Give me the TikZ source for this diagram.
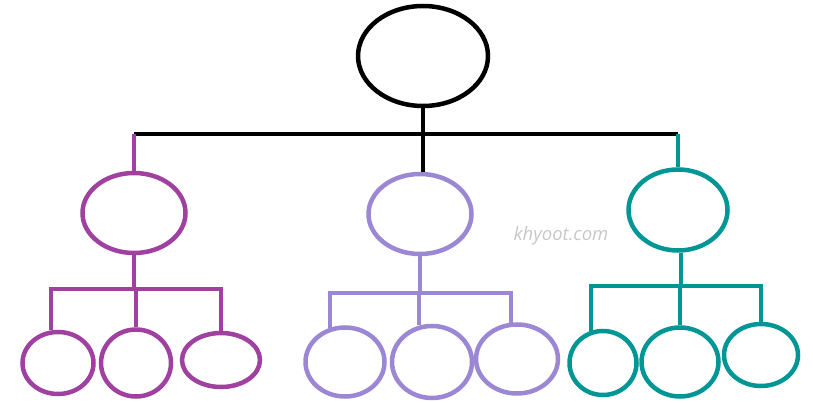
\documentclass[tikz,border=0pt]{standalone}
\usepackage{fontspec}
\newfontfamily\markfont{Open Sans}
\usetikzlibrary{shapes.geometric}
\definecolor{plum}{RGB}{160,64,160}
\definecolor{lavender}{RGB}{155,135,212}
\definecolor{teal}{RGB}{0,150,150}

\begin{document}
\begin{tikzpicture}[x=1pt,y=-1pt]
                    \tikzstyle{oval}=[ellipse,draw,line width=4.5pt,inner sep=0pt]
                    \tikzstyle{link}=[line width=4pt]
                    \useasboundingbox (0,0) rectangle (813,403);
                    \node[oval,minimum width=130,minimum height=100] (root) at (423,56) {};
                    \node[oval,plum,minimum width=103,minimum height=80] (p) at (134,213) {};
                    \node[oval,lavender,minimum width=103,minimum height=80] (l) at (420,214) {};
                    \node[oval,teal,minimum width=99,minimum height=81] (t) at (678,210) {};
                    \node[oval,plum,minimum width=71,minimum height=62] (p1) at (58,363) {};
                    \node[oval,plum,minimum width=70,minimum height=67] (p2) at (136,363) {};
                    \node[oval,plum,minimum width=78,minimum height=54] (p3) at (221,360) {};
                    \node[oval,lavender,minimum width=79,minimum height=69] (l1) at (345,362) {};
                    \node[oval,lavender,minimum width=80,minimum height=72] (l2) at (432,362) {};
                    \node[oval,lavender,minimum width=82,minimum height=69] (l3) at (517,359) {};
                    \node[oval,teal,minimum width=67,minimum height=64] (t1) at (603,363) {};
                    \node[oval,teal,minimum width=77,minimum height=69] (t2) at (680,362) {};
                    \node[oval,teal,minimum width=74,minimum height=62] (t3) at (761,355) {};
                    \coordinate (rj) at (423,134);
                    \coordinate (pj) at (134,289);
                    \coordinate (lj) at (420,293);
                    \coordinate (tj) at (681,286);
                    \draw[link] (root.south) -- (root.south |- l.north);
                    \draw[link] (p.north |- rj) -- (t.north |- rj);
                    \draw[link,plum] (p.north |- rj) -- (p.north);
                    \draw[link,teal] (t.north |- rj) -- (t.north);
                    \draw[link,plum] (p.south) -- (p.south |- pj);
                    \draw[link,plum] (p1.102) |- (pj) -| (p3.north);
                    \draw[link,plum] (p2.north) -- (p2.north |- pj);
                    \draw[link,lavender] (l.south) -- (l.south |- lj);
                    \draw[link,lavender] (l1.113) |- (lj) -| (l3.100);
                    \draw[link,lavender] (l2.109) -- (l2.109 |- lj);
                    \draw[link,teal] (t.south -| tj) -- (tj);
                    \draw[link,teal] (t1.111) |- (tj) -| (t3.north);
                    \draw[link,teal] (t2.north) -- (t2.north |- tj);
                    \node[text=black!22,font=\markfont\itshape\fontsize{18.5}{18.5}\selectfont] (mark) at (561,236) {khyoot.com};
                \end{tikzpicture}
\end{document}
